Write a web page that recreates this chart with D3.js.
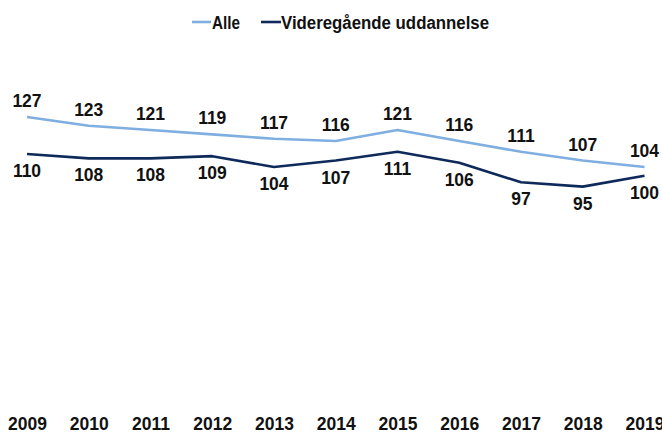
<!DOCTYPE html>
<html><head><meta charset="utf-8">
<script src="https://cdn.jsdelivr.net/npm/d3@7"></script>
<style>html,body{margin:0;padding:0;background:#fff;} svg{display:block;}</style>
</head><body>
<svg id="c" width="662" height="433"></svg>
<script>
const years = ["2009","2010","2011","2012","2013","2014","2015","2016","2017","2018","2019"];
const alle = [127,123,121,119,117,116,121,116,111,107,104];
const videregaaende = [110,108,108,109,104,107,111,106,97,95,100];
const seriesNames = ["Alle","Videregående uddannelse"];
const colors = ["#7FAEE0","#0E2A5A"];

const svg = d3.select("#c");
const x = d3.scalePoint().domain(years).range([27, 644.5]);
const y = d3.scaleLinear().domain([0, 140]).range([393.4, 88.7]);

const numFont = "'Liberation Sans', Arial, sans-serif";
const line = d3.line().x((d,i)=>x(years[i])).y(d=>y(d));

const series = [
  {name: seriesNames[0], values: alle, color: colors[0], dy: -10},
  {name: seriesNames[1], values: videregaaende, color: colors[1], dy: 23}
];

series.forEach(s => {
  svg.append("path").datum(s.values).attr("d", line)
    .attr("fill","none").attr("stroke", s.color).attr("stroke-width", 2.6)
    .attr("stroke-linejoin","round");
  svg.append("g").selectAll("text").data(s.values).join("text")
    .attr("x",(d,i)=>x(years[i])).attr("y", d=>y(d)+s.dy)
    .attr("text-anchor","middle")
    .style("font-family", numFont).style("font-size","17.5px").style("font-weight","bold")
    .attr("fill","#111").text(d=>d);
});

// x axis labels
const xa = svg.append("g").attr("transform","translate(0,430)")
  .call(d3.axisBottom(x).tickSize(0).tickPadding(0));
xa.select(".domain").remove();
xa.selectAll("text").attr("y",0).attr("dy",0)
  .style("font-family", numFont).style("font-size","17.5px").style("font-weight","bold").attr("fill","#111");

// legend
const leg = svg.append("g");
const items = [{x0:192, x1:211, tx:212, w:28}, {x0:261, x1:281, tx:281, w:208}];
items.forEach((it,i)=>{
  leg.append("line").attr("x1",it.x0).attr("x2",it.x1).attr("y1",22).attr("y2",22)
    .attr("stroke",colors[i]).attr("stroke-width",2.6);
  leg.append("text").attr("x",it.tx).attr("y",29)
    .attr("textLength", it.w).attr("lengthAdjust","spacingAndGlyphs")
    .style("font-family",numFont).style("font-size","18px").style("font-weight","bold")
    .attr("fill","#111").text(seriesNames[i]);
});
</script>
</body></html>
